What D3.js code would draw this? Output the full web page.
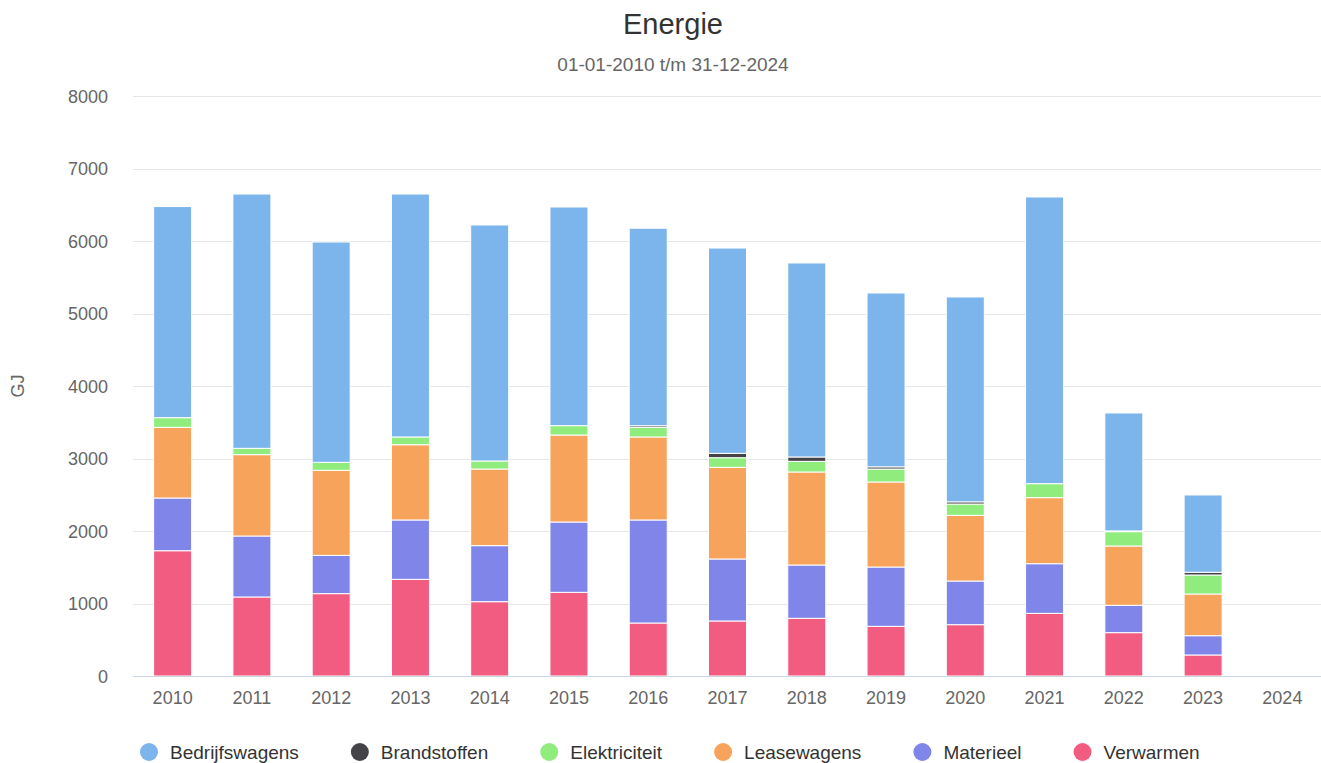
<!DOCTYPE html>
<html>
<head>
<meta charset="utf-8">
<script src="https://cdn.jsdelivr.net/npm/d3@7"></script>
<style>
  html, body { margin: 0; padding: 0; background: #fff; }
  svg { display: block; font-family: "Liberation Sans", Arial, Helvetica, sans-serif; }
</style>
</head>
<body>
<svg id="chart" width="1321" height="763"></svg>
<script>
const years = ["2010","2011","2012","2013","2014","2015","2016","2017","2018","2019","2020","2021","2022","2023","2024"];
const verwarmen      = [1728,1090,1136,1333,1025,1154, 731, 759, 796, 685, 708, 864, 598, 290, 0];
const materieel      = [ 727, 841, 528, 819, 773, 970,1421, 855, 735, 818, 602, 685, 377, 266, 0];
const leasewagens    = [ 975,1122,1173,1038,1057,1200,1145,1264,1283,1173, 906, 911, 818, 575, 0];
const elektriciteit  = [ 133,  87, 110, 107, 111, 129, 133, 133, 147, 179, 156, 193, 198, 262, 0];
const brandstoffen   = [   0,   0,   0,   0,   0,   0,  22,  60,  60,  30,  30,   0,  10,  38, 0];
const bedrijfswagens = [2912,3508,3039,3351,3255,3016,2724,2832,2676,2398,2826,3954,1627,1066, 0];
const yTicks = [0,1000,2000,3000,4000,5000,6000,7000,8000];

const seriesNames  = ["Bedrijfswagens","Brandstoffen","Elektriciteit","Leasewagens","Materieel","Verwarmen"];
const seriesColors = ["#7cb5ec","#434348","#90ed7d","#f7a35c","#8085e9","#f15c80"];
const seriesData   = [bedrijfswagens, brandstoffen, elektriciteit, leasewagens, materieel, verwarmen];

const svg = d3.select("#chart");

// Titles
svg.append("text").attr("x", 673).attr("y", 34).attr("text-anchor","middle")
  .attr("font-size", 29).attr("fill","#333333").text("Energie");
svg.append("text").attr("x", 673).attr("y", 71).attr("text-anchor","middle")
  .attr("font-size", 19).attr("fill","#666666").text("01-01-2010 t/m 31-12-2024");

const x = d3.scaleBand().domain(years).range([133, 1322]).padding(0);
const y = d3.scaleLinear().domain([0, 8000]).range([676, 96]);

// Gridlines
svg.append("g").selectAll("line").data(yTicks.filter(d => d > 0)).join("line")
  .attr("x1", 133).attr("x2", 1321)
  .attr("y1", d => Math.round(y(d)) + 0.5).attr("y2", d => Math.round(y(d)) + 0.5)
  .attr("stroke", "#e6e6e6").attr("stroke-width", 1);

// Y axis labels
const yAxis = d3.axisLeft(y).tickValues(yTicks).tickSize(0).tickPadding(0).tickFormat(d3.format("d"));
const gy = svg.append("g").attr("transform", "translate(108,0)").call(yAxis);
gy.select(".domain").remove();
gy.selectAll("text").attr("font-size", 18).attr("fill", "#666666")
  .attr("font-family", "Liberation Sans, Arial, sans-serif").attr("dy", "0.35em");

// Y axis title
svg.append("text").attr("transform", "translate(24,386) rotate(-90)").attr("text-anchor","middle")
  .attr("font-size", 18).attr("fill","#666666").text("GJ");

// Stack
const table = years.map((yr, i) => {
  const o = { year: yr };
  seriesNames.forEach((n, k) => o[n] = seriesData[k][i]);
  return o;
});
const stackOrder = ["Verwarmen","Materieel","Leasewagens","Elektriciteit","Brandstoffen","Bedrijfswagens"];
const stacked = d3.stack().keys(stackOrder)(table);
const color = d3.scaleOrdinal().domain(seriesNames).range(seriesColors);

const barW = 38;
svg.append("g").selectAll("g").data(stacked).join("g")
  .attr("fill", d => color(d.key))
  .selectAll("rect").data(d => d.filter(p => p[1] - p[0] > 0)).join("rect")
  .attr("x", d => x(d.data.year) + x.bandwidth() / 2 - barW / 2)
  .attr("width", barW)
  .attr("y", d => y(d[1]))
  .attr("height", d => y(d[0]) - y(d[1]))
  .attr("stroke", "#ffffff").attr("stroke-width", 1);

// X axis
const xAxis = d3.axisBottom(x).tickSize(0).tickPadding(0);
const gx = svg.append("g").attr("transform", "translate(0,676)").call(xAxis);
gx.select(".domain").remove();
gx.selectAll("text").attr("font-size", 18).attr("fill", "#666666")
  .attr("font-family", "Liberation Sans, Arial, sans-serif").attr("y", 22).attr("dy", "0.35em");
svg.append("line").attr("x1", 133).attr("x2", 1321).attr("y1", 676.5).attr("y2", 676.5)
  .attr("stroke", "#ccd6eb").attr("stroke-width", 1);

// Legend
const legend = svg.append("g");
let lx = 140;
seriesNames.forEach((n, k) => {
  legend.append("circle").attr("cx", lx + 9).attr("cy", 752).attr("r", 9).attr("fill", seriesColors[k]);
  const t = legend.append("text").attr("x", lx + 30).attr("y", 752).attr("dy", "0.35em")
    .attr("font-size", 19).attr("fill", "#333333").text(n);
  lx = lx + 30 + t.node().getComputedTextLength() + 52;
});
</script>
</body>
</html>
